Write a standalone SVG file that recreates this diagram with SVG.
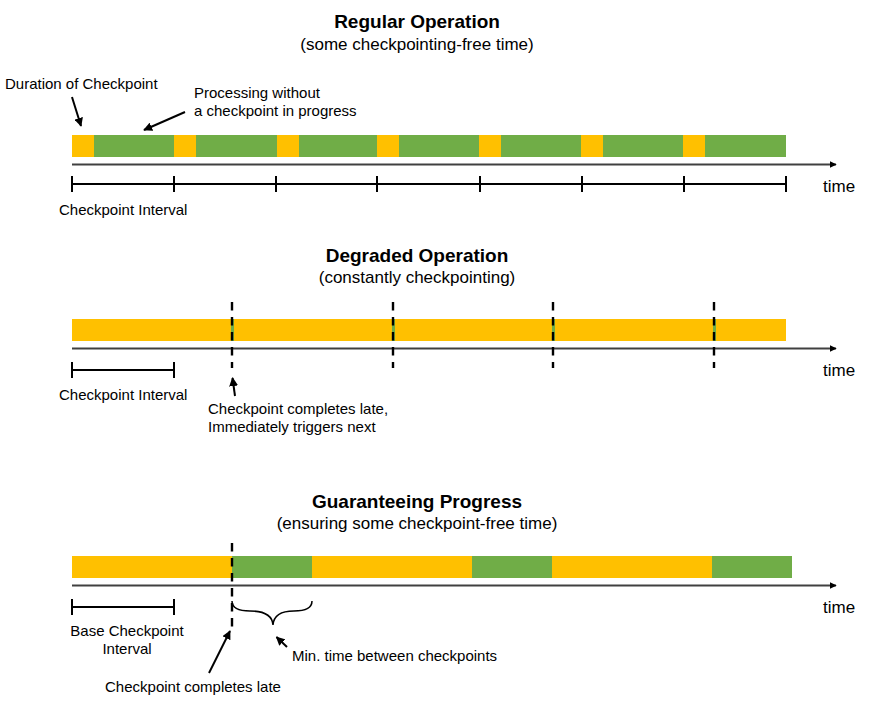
<svg xmlns="http://www.w3.org/2000/svg" width="874" height="707" viewBox="0 0 874 707">
<style>
text{font-family:"Liberation Sans",Arial,sans-serif;fill:#000}
.t{font-size:19px;font-weight:bold;text-anchor:middle}
.s{font-size:17px;text-anchor:middle}
.b{font-size:15px;text-anchor:middle}
.l{font-size:15px}
.tm{font-size:17px}
.y{fill:#FFC000}
.g{fill:#70AD47}
.ax{stroke:#404040;stroke-width:1.8;fill:none}
.iv{stroke:#000;stroke-width:2;fill:none}
.ds{stroke:#000;stroke-width:2.4;stroke-dasharray:8.5,6.5;fill:none}
.ar{stroke:#000;stroke-width:2;fill:none}
</style>
<defs>
<marker id="ah" viewBox="0 0 10 10" refX="9" refY="5" markerWidth="4.5" markerHeight="4.5" orient="auto" markerUnits="strokeWidth"><path d="M0,0L10,5L0,10z" fill="#000"/></marker>
<marker id="axh" viewBox="0 0 10 10" refX="9" refY="5" markerWidth="4" markerHeight="4" orient="auto" markerUnits="strokeWidth"><path d="M0,0L10,5L0,10z" fill="#000"/></marker>
</defs>

<g id="regular">
<text class="t" x="417" y="28">Regular Operation</text>
<text class="s" x="417" y="50">(some checkpointing-free time)</text>
<g id="regular-bar">
<rect class="g" x="72" y="135" width="714" height="22"/>
<rect class="y" x="72" y="135" width="22" height="22"/>
<rect class="y" x="174" y="135" width="22" height="22"/>
<rect class="y" x="277" y="135" width="22" height="22"/>
<rect class="y" x="377" y="135" width="22" height="22"/>
<rect class="y" x="479" y="135" width="22" height="22"/>
<rect class="y" x="581" y="135" width="22" height="22"/>
<rect class="y" x="683" y="135" width="22" height="22"/>
</g>
<text class="l" x="5" y="89">Duration of Checkpoint</text>
<text class="l" x="194" y="98">Processing without</text>
<text class="l" x="194" y="116">a checkpoint in progress</text>
<g id="regular-ticks">
<path class="iv" d="M72,184H786M72,176V192M174,176V192M276,176V192M377,176V192M480,176V192M582,176V192M684,176V192M786,176V192"/>
</g>
<text class="l" x="59" y="215">Checkpoint Interval</text>
<text class="tm" x="823" y="192">time</text>
</g>

<g id="degraded">
<text class="t" x="417" y="262">Degraded Operation</text>
<text class="s" x="417" y="283">(constantly checkpointing)</text>
<rect class="y" x="72" y="319" width="714" height="22"/>
<rect class="g" x="231" y="319" width="3" height="22"/>
<rect class="g" x="392" y="319" width="3" height="22"/>
<rect class="g" x="552" y="319" width="3" height="22"/>
<rect class="g" x="713" y="319" width="3" height="22"/>
<path class="iv" d="M72,370H174M72,362V378M174,362V378"/>
<text class="l" x="59" y="400">Checkpoint Interval</text>
<text class="l" x="208" y="414">Checkpoint completes late,</text>
<text class="l" x="208" y="432">Immediately triggers next</text>
<text class="tm" x="823" y="376">time</text>
</g>

<g id="guarantee">
<text class="t" x="417" y="508">Guaranteeing Progress</text>
<text class="s" x="417" y="529">(ensuring some checkpoint-free time)</text>
<rect class="y" x="72" y="556" width="160" height="22"/>
<rect class="g" x="232" y="556" width="80" height="22"/>
<rect class="y" x="312" y="556" width="160" height="22"/>
<rect class="g" x="472" y="556" width="80" height="22"/>
<rect class="y" x="552" y="556" width="160" height="22"/>
<rect class="g" x="712" y="556" width="80" height="22"/>
<path class="iv" d="M72,607H174M72,599V615M174,599V615"/>
<text class="b" x="127" y="636">Base Checkpoint</text>
<text class="b" x="127" y="654">Interval</text>
<path d="M232,601Q232,611 250,611Q272,611 273,625Q274,611 294,611Q312,611 312,601" stroke="#000" stroke-width="1.5" fill="none"/>
<text class="l" x="292" y="661">Min. time between checkpoints</text>
<text class="b" x="193" y="692">Checkpoint completes late</text>
<text class="tm" x="823" y="613">time</text>
</g>

<g id="connectors">
<path class="ax" d="M72,164.5H836" marker-end="url(#axh)"/>
<path class="ax" d="M72,348.5H836" marker-end="url(#axh)"/>
<path class="ax" d="M72,585.5H836" marker-end="url(#axh)"/>
<path class="ds" d="M232,302V368M393,302V368M553,302V368M714,302V368"/>
<path class="ds" d="M232,543V630"/>
<path class="ar" d="M72,97L81,126" marker-end="url(#ah)"/>
<path class="ar" d="M185,112L144,130" marker-end="url(#ah)"/>
<path class="ar" d="M235,396L232.5,378" marker-end="url(#ah)"/>
<path class="ar" d="M287,647L276.5,637" marker-end="url(#ah)"/>
<path class="ar" d="M209,673L230,631" marker-end="url(#ah)"/>
</g>
</svg>
